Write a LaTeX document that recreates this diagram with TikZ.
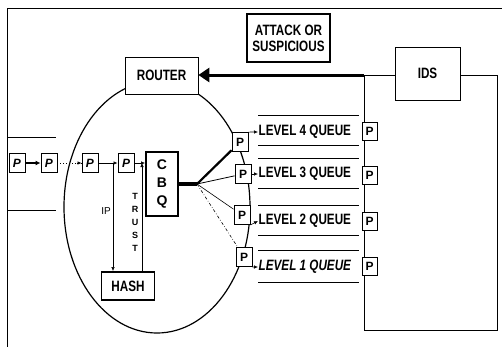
\documentclass[tikz,border=0pt]{standalone}
\usepackage{fontspec}
\setmainfont{Liberation Sans}
\newfontfamily\narrowsans[FakeStretch=0.78]{Liberation Sans}
\usetikzlibrary{arrows.meta}

\begin{document}
\begin{tikzpicture}[x=1bp,y=-1bp,
  box/.style={draw=black, fill=white, line width=0.7pt, inner sep=0pt,
    font=\narrowsans\bfseries\fontsize{15bp}{16bp}\selectfont},
  thickbox/.style={box, line width=1.8pt},
  pbox/.style={draw=black, fill=white, line width=0.9pt, inner sep=0pt,
    minimum width=16bp, minimum height=19bp,
    font=\bfseries\fontsize{12bp}{14bp}\selectfont},
  lpbox/.style={pbox, font=\bfseries\itshape\fontsize{12bp}{14bp}\selectfont},
  qlabel/.style={anchor=west, inner sep=0.5bp,
    font=\narrowsans\bfseries\fontsize{15bp}{16bp}\selectfont},
  qline/.style={line width=1pt},
  tip/.style={line width=0.6pt, -{Latex[length=4bp,width=3.5bp]}}]
\useasboundingbox (0,0) rectangle (502,349);

% frame
\draw[line width=0.8pt] (502,8) -- (7,8) -- (7,347);
\draw[line width=0.8pt] (7,137) -- (56,137);
\draw[line width=0.8pt] (7,210) -- (56,210);

% router area
\draw[line width=1.2pt] (157,207) ellipse [x radius=93, y radius=126];
\node[box, minimum width=73bp, minimum height=37bp] (router) at (161.5,75.5) {ROUTER};
\node[thickbox, minimum width=83bp, minimum height=48bp, align=center] (attack) at (288.5,38)
  {ATTACK OR\\SUSPICIOUS};
\node[box, minimum width=65bp, minimum height=53bp] (ids) at (427.5,73.5) {IDS};

% feedback loop
\coordinate (tap) at (364,75);
\coordinate (loopne) at (497,75);
\coordinate (loopse) at (497,330);
\coordinate (loopsw) at (364,330);
\draw[line width=0.9pt] (ids.west |- tap) -- (tap);
\draw[line width=0.9pt] (ids.east |- loopne) -- (loopne) -- (loopse) -- (loopsw) -- (tap);
\draw[line width=3pt, -{Triangle[length=11bp,width=14bp]}] (tap) -- (tap -| router.east);

% queues
\foreach \y in {115,145,158,188,205,235,250,282}
  \draw[qline] (258,\y) -- (359,\y);
\node[pbox, minimum width=15bp, minimum height=18bp] (qp4) at (369.5,131) {P};
\node[pbox, minimum width=15bp, minimum height=18bp] (qp3) at (369.5,175) {P};
\node[pbox, minimum width=15bp, minimum height=18bp] (qp2) at (369.5,221) {P};
\node[pbox, minimum width=15bp, minimum height=18bp] (qp1) at (369.5,266) {P};
\node[qlabel] (lvl4) at (258,132) {LEVEL 4 QUEUE};
\node[qlabel] (lvl3) at (258,174) {LEVEL 3 QUEUE};
\node[qlabel] (lvl2) at (258,221) {LEVEL 2 QUEUE};
\node[qlabel, font=\narrowsans\bfseries\itshape\fontsize{15bp}{16bp}\selectfont] (lvl1) at (258,267) {LEVEL 1 QUEUE};

% incoming packets
\node[lpbox] (p1) at (17,163) {P};
\node[lpbox] (p2) at (49,163) {P};
\node[lpbox] (p3) at (90,163) {P};
\node[lpbox] (p4) at (126,163) {P};
\node[thickbox, minimum width=32bp, minimum height=64bp, align=center,
  font=\bfseries\fontsize{14bp}{18bp}\selectfont] (cbq) at (162,184) {C\\B\\Q};
\node[thickbox, minimum width=53bp, minimum height=28bp] (hash) at (128,286) {HASH};
\draw[line width=1.6pt, -{Latex[length=5bp,width=5bp]}] (p1) -- (p2);
\draw[line width=0.9pt, dotted] (p2) -- (p3);
\draw[tip] ([xshift=-5bp]p3.west) -- (p3);
\draw[tip] (p3) -- (p4);
\draw[tip] (p4) -- (p4 -| cbq.west);
\coordinate (ipsplit) at (113,163);
\coordinate (trustfoot) at (142,272);
\draw[tip] (ipsplit) -- (ipsplit |- hash.north);
\draw[tip] (trustfoot) -- (trustfoot |- p4.east);
\node[anchor=east, inner sep=1bp, font=\fontsize{10bp}{12bp}\selectfont] (iplbl) at (112,211) {IP};
\node[align=center, inner sep=0pt, font=\bfseries\fontsize{9bp}{13bp}\selectfont] (trustlbl) at (135,222)
  {T\\R\\U\\S\\T};

% class based queueing fan
\coordinate (fan) at (197,184);
\draw[line width=5pt] (cbq.east) -- (fan);
\node[pbox] (cp4) at (240,142) {P};
\node[pbox] (cp3) at (243,174) {P};
\node[pbox] (cp2) at (242,215) {P};
\node[pbox] (cp1) at (244,257) {P};
\draw[line width=2.2pt] (fan) -- (cp4);
\draw[line width=0.8pt] (fan) -- (cp3);
\draw[line width=0.6pt] (fan) -- (cp2);
\draw[line width=0.6pt, dash dot] (fan) -- (cp1);
\draw[tip] (cp4.north east) -- (lvl4.west);
\draw[tip] (cp3) -- (lvl3);
\draw[tip] (cp2.south east) -- (lvl2.west);
\draw[tip] (cp1.south east) -- (lvl1.west);
\end{tikzpicture}
\end{document}
